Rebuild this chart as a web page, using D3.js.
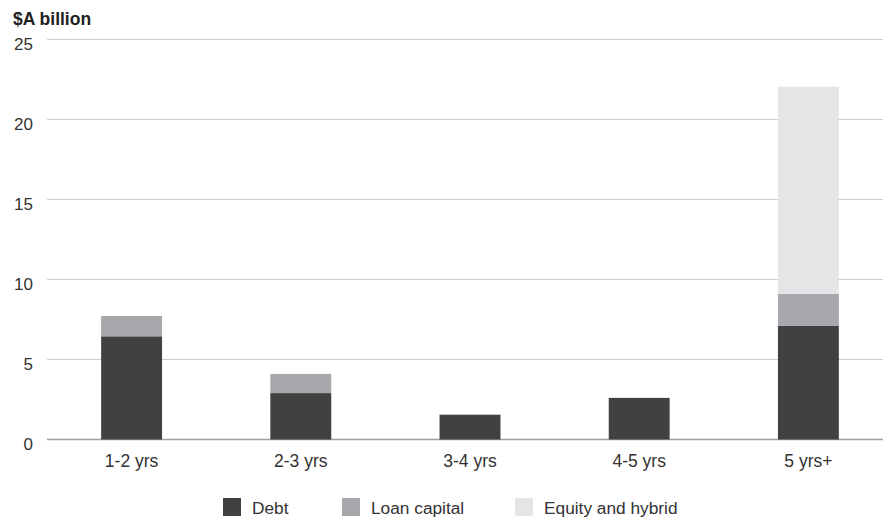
<!DOCTYPE html>
<html><head><meta charset="utf-8">
<script src="https://cdn.jsdelivr.net/npm/d3@7"></script>
<style>body{margin:0;background:#fff}svg{display:block}text{font-family:"Liberation Sans",Arial,sans-serif}</style>
</head><body><svg id="c" width="883" height="522"></svg>
<script>
const categories = ["1-2 yrs","2-3 yrs","3-4 yrs","4-5 yrs","5 yrs+"];
const debt = [6.45, 2.9, 1.55, 2.6, 7.1];
const loanCapital = [1.27, 1.2, 0, 0, 2.0];
const equityHybrid = [0, 0, 0, 0, 12.95];
const seriesNames = ["Debt","Loan capital","Equity and hybrid"];
const colors = ["#414143","#a7a8ab","#e4e5e7"];
const yTicks = [0,5,10,15,20,25];

const svg = d3.select("#c");
const rows = categories.map((c,i)=>({cat:c, "Debt":debt[i], "Loan capital":loanCapital[i], "Equity and hybrid":equityHybrid[i]}));
const stack = d3.stack().keys(seriesNames)(rows);

const x = d3.scaleBand().domain(categories).range([47, 893]).paddingInner(0.64).paddingOuter(0.32);
const y = d3.scaleLinear().domain([0,25]).range([439.5, 39.5]);

svg.append("g").selectAll("line").data(yTicks).join("line")
  .attr("x1",47).attr("x2",883)
  .attr("y1",d=>y(d)).attr("y2",d=>y(d))
  .attr("stroke",d=>d===0?"#a0a0a0":"#cfcfcf").attr("stroke-width",d=>d===0?1.5:1.2);

svg.append("g").selectAll("text").data(yTicks).join("text")
  .attr("x",33).attr("y",d=>y(d)+10.5).attr("text-anchor","end")
  .attr("font-size",17).attr("fill","#333").text(d=>d);

svg.append("text").attr("x",13).attr("y",25).attr("font-size",17.5).attr("font-weight","bold")
  .attr("fill","#222").text("$A billion");

svg.append("g").selectAll("g").data(stack).join("g")
  .attr("fill",(d,i)=>colors[i])
  .selectAll("rect").data(d=>d.filter(s=>s[1]-s[0]>0)).join("rect")
  .attr("x",d=>x(d.data.cat)).attr("width",x.bandwidth())
  .attr("y",d=>y(d[1])).attr("height",d=>y(d[0])-y(d[1]));

svg.append("g").selectAll("text").data(categories).join("text")
  .attr("x",d=>x(d)+x.bandwidth()/2).attr("y",467).attr("text-anchor","middle")
  .attr("font-size",17.5).attr("fill","#333").text(d=>d);

const legX = [223, 342, 515];
const lg = svg.append("g").selectAll("g").data(seriesNames).join("g")
  .attr("transform",(d,i)=>`translate(${legX[i]},498)`);
lg.append("rect").attr("width",18).attr("height",18).attr("fill",(d,i)=>colors[i]);
lg.append("text").attr("x",29).attr("y",15.5).attr("font-size",17.3).attr("fill","#333").text(d=>d);
</script></body></html>
